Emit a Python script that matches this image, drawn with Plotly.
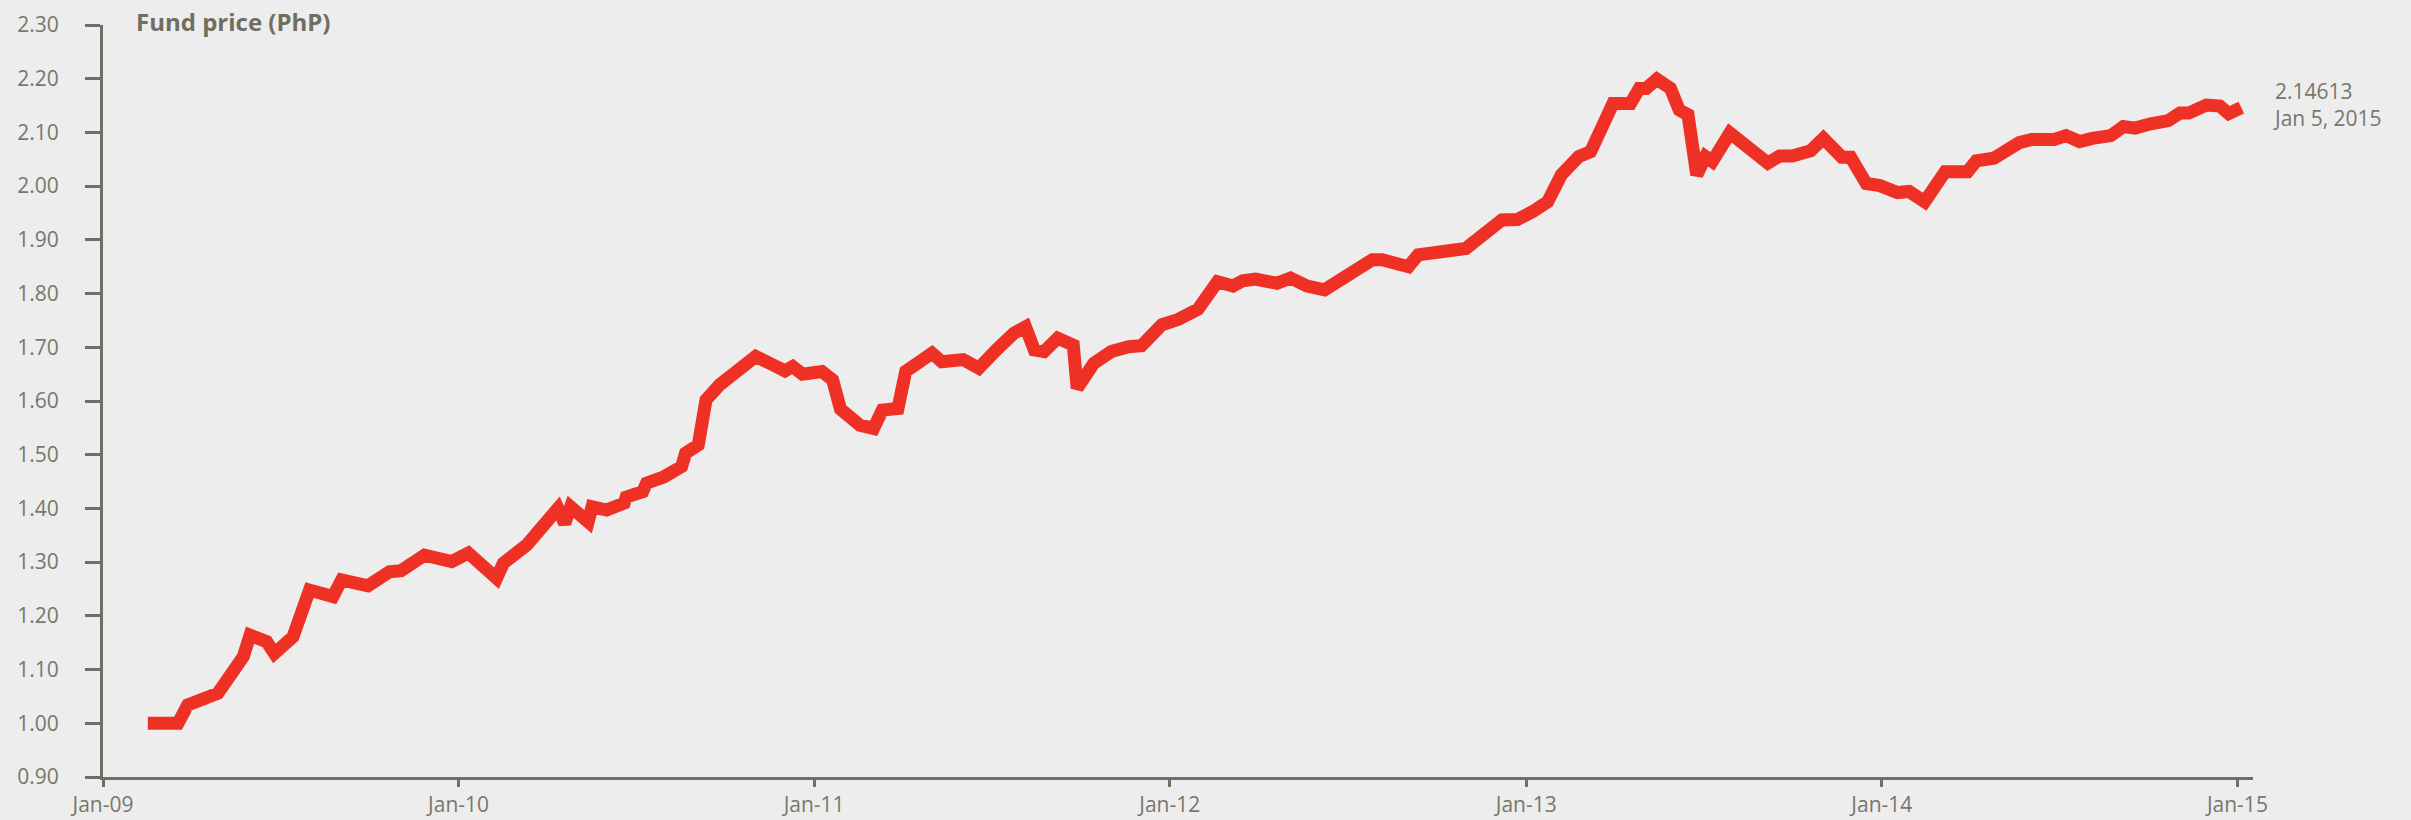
import plotly.graph_objects as go

dates = [
    "2009-02-16", "2009-03-19", "2009-03-29", "2009-04-29", "2009-05-25", "2009-06-01",
    "2009-06-18", "2009-06-26", "2009-07-15", "2009-08-01", "2009-08-25", "2009-09-03",
    "2009-09-30", "2009-10-22", "2009-11-03", "2009-11-27", "2009-12-25", "2010-01-11",
    "2010-02-09", "2010-02-16", "2010-03-12", "2010-04-03", "2010-04-13", "2010-04-20",
    "2010-04-26", "2010-05-14", "2010-05-18", "2010-06-02", "2010-06-20", "2010-06-22",
    "2010-07-09", "2010-07-13", "2010-07-31", "2010-08-18", "2010-08-22", "2010-09-04",
    "2010-09-12", "2010-09-26", "2010-11-02", "2010-11-20", "2010-12-02", "2010-12-10",
    "2010-12-20", "2011-01-09", "2011-01-20", "2011-01-28", "2011-02-09", "2011-02-17",
    "2011-03-03", "2011-03-12", "2011-03-28", "2011-04-05", "2011-05-02", "2011-05-12",
    "2011-06-03", "2011-06-19", "2011-07-07", "2011-07-25", "2011-08-06", "2011-08-15",
    "2011-08-25", "2011-09-08", "2011-09-24", "2011-09-28", "2011-10-15", "2011-11-02",
    "2011-11-20", "2011-12-03", "2011-12-24", "2012-01-10", "2012-01-30", "2012-02-11",
    "2012-02-19", "2012-03-06", "2012-03-16", "2012-03-29", "2012-04-20", "2012-05-04",
    "2012-05-21", "2012-06-08", "2012-07-09", "2012-07-27", "2012-08-06", "2012-09-02",
    "2012-09-12", "2012-09-28", "2012-10-31", "2012-12-07", "2012-12-23", "2013-01-08",
    "2013-01-23", "2013-02-06", "2013-02-24", "2013-03-08", "2013-03-31", "2013-04-18",
    "2013-04-27", "2013-05-04", "2013-05-15", "2013-05-29", "2013-06-07", "2013-06-16",
    "2013-06-25", "2013-07-04", "2013-07-11", "2013-07-29", "2013-09-06", "2013-09-18",
    "2013-10-01", "2013-10-20", "2013-11-02", "2013-11-21", "2013-11-30", "2013-12-16",
    "2013-12-30", "2014-01-17", "2014-01-29", "2014-02-14", "2014-03-07", "2014-03-30",
    "2014-04-08", "2014-04-26", "2014-05-22", "2014-06-04", "2014-06-27", "2014-07-09",
    "2014-07-23", "2014-08-05", "2014-08-24", "2014-09-06", "2014-09-18", "2014-10-04",
    "2014-10-22", "2014-11-03", "2014-11-12", "2014-11-30", "2014-12-14", "2014-12-23",
    "2015-01-05",
]

prices = [
    1.000, 1.000, 1.034, 1.056, 1.124, 1.164,
    1.152, 1.130, 1.161, 1.248, 1.236, 1.267,
    1.256, 1.282, 1.284, 1.313, 1.301, 1.317,
    1.270, 1.298, 1.332, 1.379, 1.400, 1.372,
    1.403, 1.375, 1.403, 1.397, 1.410, 1.421,
    1.431, 1.447, 1.459, 1.478, 1.503, 1.518,
    1.602, 1.630, 1.683, 1.667, 1.656, 1.664,
    1.650, 1.655, 1.639, 1.585, 1.568, 1.555,
    1.549, 1.583, 1.586, 1.655, 1.689, 1.673,
    1.677, 1.661, 1.695, 1.726, 1.738, 1.695,
    1.692, 1.717, 1.704, 1.624, 1.670, 1.692,
    1.701, 1.703, 1.742, 1.752, 1.771, 1.807,
    1.822, 1.814, 1.824, 1.827, 1.819, 1.829,
    1.814, 1.807, 1.847, 1.863, 1.863, 1.850,
    1.872, 1.874, 1.884, 1.937, 1.938, 1.953,
    1.971, 2.021, 2.055, 2.064, 2.154, 2.154,
    2.182, 2.182, 2.199, 2.182, 2.142, 2.133,
    2.021, 2.055, 2.046, 2.099, 2.043, 2.056,
    2.056, 2.066, 2.089, 2.054, 2.054, 2.005,
    2.001, 1.988, 1.990, 1.971, 2.027, 2.027,
    2.047, 2.052, 2.081, 2.087, 2.087, 2.094,
    2.083, 2.089, 2.094, 2.111, 2.108, 2.116,
    2.122, 2.136, 2.136, 2.151, 2.149, 2.135,
    2.14613,
]

y_ticks = [0.9, 1.0, 1.1, 1.2, 1.3, 1.4, 1.5, 1.6, 1.7, 1.8, 1.9, 2.0, 2.1, 2.2, 2.3]
title_text = "Fund price (PhP)"
last_label = "Jan 5, 2015"

RED = "#ee3124"
GREY = "#6e6e62"
LABEL = "#77776b"
BG = "#ededed"
FONT = "Open Sans"

fig = go.Figure()
fig.add_trace(go.Scatter(
    x=dates, y=prices, mode="lines",
    line=dict(color=RED, width=13, shape="linear"),
    hoverinfo="skip", showlegend=False,
))

fig.add_annotation(
    x=dates[-1], y=prices[-1], xref="x", yref="y",
    text=f"{prices[-1]:.5f}<br>{last_label}",
    showarrow=False, xanchor="left", yanchor="middle", align="left",
    xshift=30, yshift=3,
    font=dict(family=FONT, size=21, color=LABEL),
)

fig.add_annotation(
    x=0.0145, y=1.005, xref="paper", yref="paper",
    text=f"<b>{title_text}</b>", showarrow=False,
    xanchor="left", yanchor="middle",
    font=dict(family=FONT, size=24, color=GREY),
)

fig.update_layout(
    width=2411, height=820,
    margin=dict(l=103, r=158, t=25, b=43, pad=0),
    paper_bgcolor=BG, plot_bgcolor="rgba(0,0,0,0)",
    font=dict(family=FONT, color=GREY),
    xaxis=dict(
        type="date", range=["2009-01-01", "2015-01-17"],
        tick0="2009-01-01", dtick="M12", tickformat="%b-%y",
        showline=True, linecolor=GREY, linewidth=3,
        ticks="outside", ticklen=7, tickwidth=3, tickcolor=GREY,
        showgrid=False, zeroline=False, automargin=False,
        tickfont=dict(family=FONT, size=21, color=LABEL),
        ticklabelstandoff=0,
    ),
    yaxis=dict(
        range=[0.9, 2.3], tickvals=y_ticks,
        ticktext=[f"{v:.2f}" for v in y_ticks],
        showline=True, linecolor=GREY, linewidth=3,
        ticks="outside", ticklen=15, tickwidth=3, tickcolor=GREY,
        showgrid=False, zeroline=False, automargin=False,
        tickfont=dict(family=FONT, size=21, color=LABEL),
        ticklabelstandoff=22,
    ),
)

fig.write_html(
    "out.html",
    config={"displayModeBar": False, "staticPlot": True},
    post_script=(
        "document.body.style.margin='0';"
        "document.body.style.overflow='hidden';"
        "document.body.style.background='" + BG + "';"
    ),
)
